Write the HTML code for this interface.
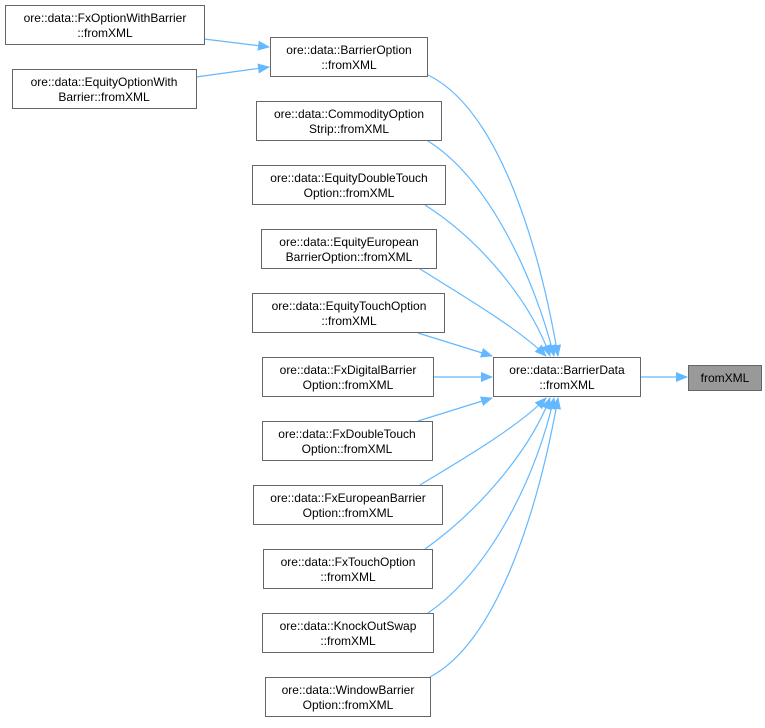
<!DOCTYPE html>
<html><head><style>body{margin:0;background:#fff}</style></head><body>
<svg width="765" height="723" xmlns="http://www.w3.org/2000/svg" font-family="Liberation Sans, sans-serif" font-size="12">
<defs><marker id="a" markerWidth="12" markerHeight="10" refX="11" refY="5" orient="auto" markerUnits="userSpaceOnUse"><path d="M0,0L12,5L0,10z" fill="#63b8ff"/></marker></defs>
<g fill="none" stroke="#63b8ff" stroke-width="1.2" marker-end="url(#a)">
<path d="M204,39L269,47"/>
<path d="M196,77L269,67"/>
<path d="M428,75C500,110 540,250 558,356"/>
<path d="M428,141C490,180 535,280 554,356"/>
<path d="M425,205C480,240 530,300 550,356"/>
<path d="M420,269C470,300 520,330 546,356"/>
<path d="M418,333L492,356"/>
<path d="M433,377L492,377"/>
<path d="M418,421L492,398"/>
<path d="M420,485C470,455 520,425 546,398"/>
<path d="M425,549C480,510 530,450 550,398"/>
<path d="M428,613C490,570 535,480 554,398"/>
<path d="M430,677C500,640 540,500 558,398"/>
<path d="M640,377L687,377"/>
</g>
<g fill="#fff" stroke="#666">
<rect x="5.5" y="5.5" width="199" height="39"/>
<rect x="12.5" y="69.5" width="184" height="39"/>
<rect x="270.5" y="37.5" width="157" height="39"/>
<rect x="256.5" y="101.5" width="185" height="39"/>
<rect x="252.5" y="165.5" width="193" height="39"/>
<rect x="261.5" y="229.5" width="175" height="39"/>
<rect x="252.5" y="293.5" width="192" height="39"/>
<rect x="262.5" y="357.5" width="171" height="39"/>
<rect x="262.5" y="421.5" width="170" height="39"/>
<rect x="253.5" y="485.5" width="189" height="39"/>
<rect x="263.5" y="549.5" width="169" height="39"/>
<rect x="262.5" y="613.5" width="171" height="39"/>
<rect x="265.5" y="677.5" width="165" height="39"/>
<rect x="493.5" y="357.5" width="147" height="39"/>
<rect x="688.5" y="365.5" width="73" height="25" fill="#999"/>
</g>
<g text-anchor="middle" fill="#000">
<text x="105" y="22">ore::data::FxOptionWithBarrier</text><text x="105" y="37">::fromXML</text>
<text x="104" y="86">ore::data::EquityOptionWith</text><text x="104" y="101">Barrier::fromXML</text>
<text x="349" y="54">ore::data::BarrierOption</text><text x="349" y="69">::fromXML</text>
<text x="349" y="118">ore::data::CommodityOption</text><text x="349" y="133">Strip::fromXML</text>
<text x="349" y="182">ore::data::EquityDoubleTouch</text><text x="349" y="197">Option::fromXML</text>
<text x="349" y="246">ore::data::EquityEuropean</text><text x="349" y="261">BarrierOption::fromXML</text>
<text x="349" y="310">ore::data::EquityTouchOption</text><text x="349" y="325">::fromXML</text>
<text x="348" y="374">ore::data::FxDigitalBarrier</text><text x="348" y="389">Option::fromXML</text>
<text x="347" y="438">ore::data::FxDoubleTouch</text><text x="347" y="453">Option::fromXML</text>
<text x="348" y="502">ore::data::FxEuropeanBarrier</text><text x="348" y="517">Option::fromXML</text>
<text x="348" y="566">ore::data::FxTouchOption</text><text x="348" y="581">::fromXML</text>
<text x="348" y="630">ore::data::KnockOutSwap</text><text x="348" y="645">::fromXML</text>
<text x="348" y="694">ore::data::WindowBarrier</text><text x="348" y="709">Option::fromXML</text>
<text x="567" y="374">ore::data::BarrierData</text><text x="567" y="389">::fromXML</text>
<text x="725" y="382">fromXML</text>
</g>
</svg>
</body></html>
